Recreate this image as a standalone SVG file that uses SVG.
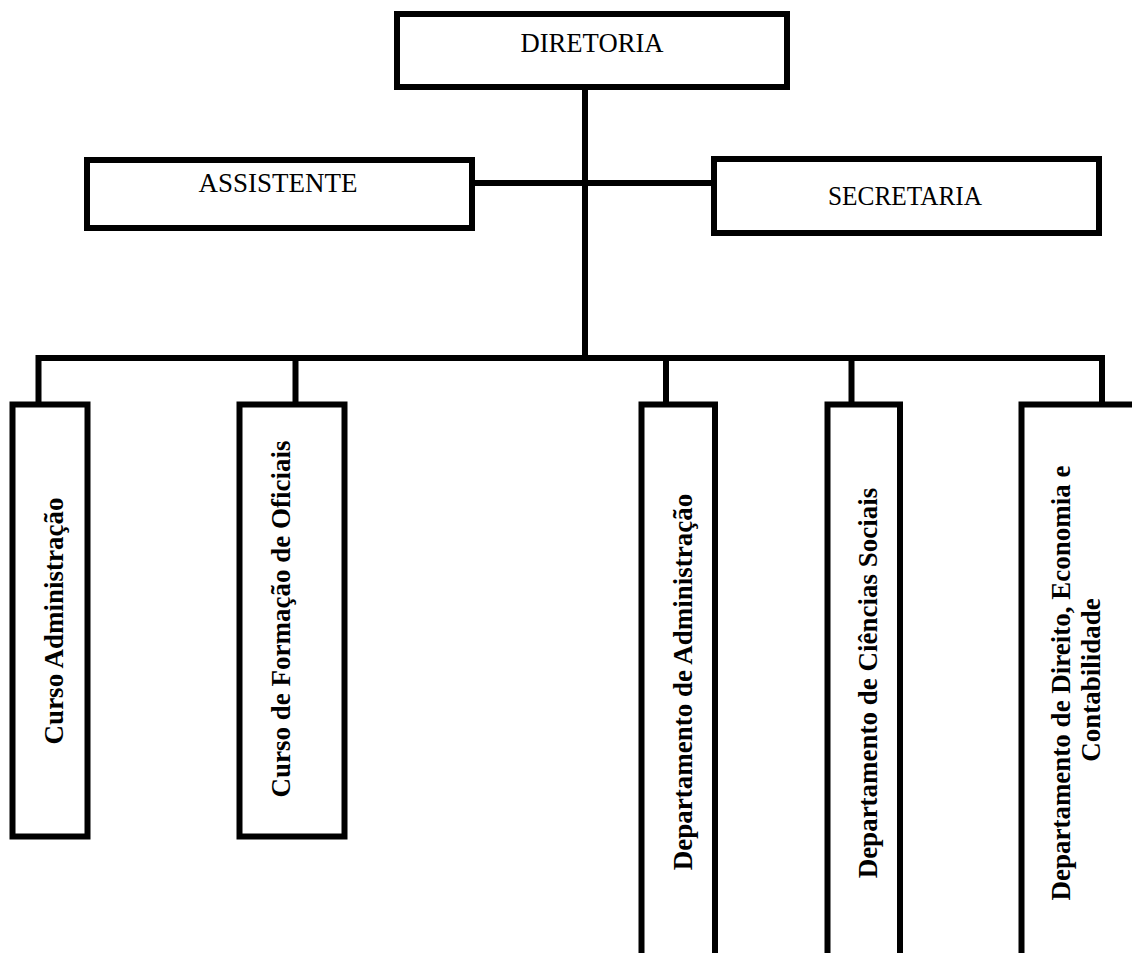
<svg xmlns="http://www.w3.org/2000/svg" width="1132" height="953" viewBox="0 0 1132 953">
  <style>
    .box { fill: #ffffff; stroke: #000000; stroke-width: 6; }
    .wire { fill: none; stroke: #000000; stroke-width: 6; stroke-linejoin: miter; stroke-linecap: square; }
    .head { font-family: "Liberation Serif", "Times New Roman", serif; font-size: 26.5px; fill: #000000; text-anchor: middle; }
    .unit { font-family: "Liberation Serif", "Times New Roman", serif; font-size: 27px; font-weight: bold; fill: #000000; text-anchor: middle; }
  </style>
  <rect width="1132" height="953" fill="#ffffff"/>

  <!-- connectors -->
  <g id="connectors">
    <!-- trunk from the board down to the bus -->
    <line class="wire" x1="585" y1="88" x2="585" y2="358"/>
    <!-- staff line: assistant and secretariat -->
    <line class="wire" x1="472" y1="183" x2="714" y2="183"/>
    <!-- bus feeding the courses and departments -->
    <polyline class="wire" points="38.5,404 38.5,358 1102,358 1102,404"/>
    <line class="wire" x1="295.5" y1="358" x2="295.5" y2="404"/>
    <line class="wire" x1="666" y1="358" x2="666" y2="404"/>
    <line class="wire" x1="851.5" y1="358" x2="851.5" y2="404"/>
  </g>

  <g id="diretoria">
    <rect class="box" x="397" y="14" width="390" height="73"/>
    <text class="head" x="592" y="52" textLength="143" lengthAdjust="spacingAndGlyphs">DIRETORIA</text>
  </g>

  <g id="assistente">
    <rect class="box" x="87" y="160" width="385" height="68"/>
    <text class="head" x="278" y="192" textLength="159" lengthAdjust="spacingAndGlyphs">ASSISTENTE</text>
  </g>

  <g id="secretaria">
    <rect class="box" x="714" y="159" width="385" height="74"/>
    <text class="head" x="905" y="205" textLength="154" lengthAdjust="spacingAndGlyphs">SECRETARIA</text>
  </g>

  <g id="curso-administracao">
    <rect class="box" x="12.5" y="404.5" width="75" height="432"/>
    <text class="unit" x="63" y="621" transform="rotate(-90 63 621)">Curso Administração</text>
  </g>

  <g id="curso-formacao-oficiais">
    <rect class="box" x="239.5" y="404.5" width="105" height="432"/>
    <text class="unit" x="290" y="619" transform="rotate(-90 290 619)">Curso de Formação de Oficiais</text>
  </g>

  <!-- department boxes run off the bottom edge -->
  <g id="departamento-administracao">
    <rect class="box" x="641.5" y="404.5" width="73.5" height="580"/>
    <text class="unit" x="692" y="682" transform="rotate(-90 692 682)">Departamento de Administração</text>
  </g>

  <g id="departamento-ciencias-sociais">
    <rect class="box" x="827.5" y="404.5" width="72.5" height="580"/>
    <text class="unit" x="877" y="683" transform="rotate(-90 877 683)">Departamento de Ciências Sociais</text>
  </g>

  <g id="departamento-direito-economia-contabilidade">
    <rect class="box" x="1021.5" y="404.5" width="140" height="580"/>
    <text class="unit" x="1070" y="683" transform="rotate(-90 1070 683)">Departamento de Direito, Economia e</text>
    <text class="unit" x="1100" y="680" transform="rotate(-90 1100 680)">Contabilidade</text>
  </g>
</svg>
